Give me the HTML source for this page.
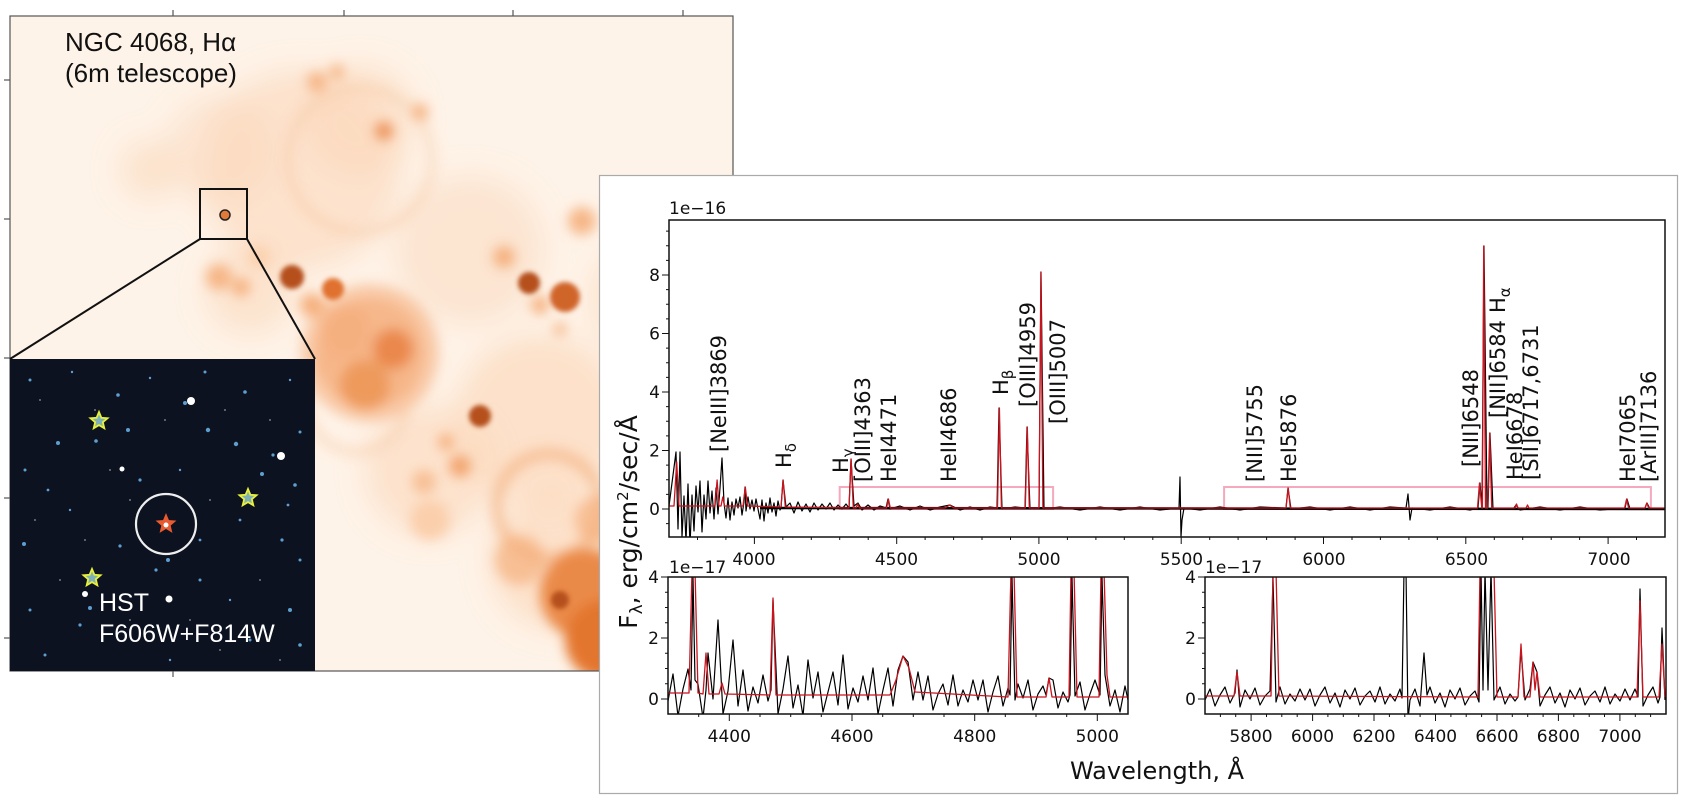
<!DOCTYPE html>
<html><head><meta charset="utf-8">
<style>
html,body{margin:0;padding:0;background:#fff;}
svg{display:block;}
.t{font-family:"DejaVu Sans","Liberation Sans",sans-serif;fill:#111;}
.lab{font-family:"DejaVu Sans","Liberation Sans",sans-serif;font-size:21px;fill:#111;}
.img{font-family:"Liberation Sans",sans-serif;}
</style></head>
<body>
<svg xmlns="http://www.w3.org/2000/svg" width="1690" height="810" viewBox="0 0 1690 810">
<defs>
<filter id="bl" x="-50%" y="-50%" width="200%" height="200%"><feGaussianBlur stdDeviation="6"/></filter>
<filter id="bl2" x="-50%" y="-50%" width="200%" height="200%"><feGaussianBlur stdDeviation="2.5"/></filter>
<filter id="bl3" x="-50%" y="-50%" width="200%" height="200%"><feGaussianBlur stdDeviation="14"/></filter>
<clipPath id="cimg"><rect x="10" y="16" width="723" height="655"/></clipPath>
<clipPath id="cins"><rect x="10" y="359" width="305" height="312"/></clipPath>
<clipPath id="ctop"><rect x="669" y="220" width="996" height="317"/></clipPath>
<clipPath id="cbl"><rect x="668" y="577" width="460" height="137"/></clipPath>
<clipPath id="cbr"><rect x="1205" y="577" width="461" height="137"/></clipPath>
<polygon id="st" points="0,-9 2.38,-3.28 8.56,-2.78 3.85,1.25 5.29,7.28 0,4.05 -5.29,7.28 -3.85,1.25 -8.56,-2.78 -2.38,-3.28"/>
</defs>

<!-- orange H-alpha image -->
<g clip-path="url(#cimg)">
<rect x="10" y="16" width="723" height="655" fill="#fef3e8"/>
<g filter="url(#bl3)" fill="#fbd5b6">
<circle cx="300" cy="170" r="100" opacity="0.55"/><circle cx="220" cy="150" r="55" opacity="0.4"/><circle cx="150" cy="170" r="30" opacity="0.5"/><circle cx="360" cy="120" r="55" opacity="0.5"/>
<circle cx="470" cy="250" r="75" opacity="0.45"/><circle cx="540" cy="420" r="85" opacity="0.6"/><circle cx="430" cy="470" r="65" opacity="0.55"/><circle cx="560" cy="560" r="70" opacity="0.6"/><circle cx="250" cy="290" r="45" opacity="0.5"/><circle cx="650" cy="300" r="60" opacity="0.5"/><circle cx="650" cy="600" r="60" opacity="0.6"/>
</g>
<g filter="url(#bl)">
<circle cx="360" cy="160" r="72" fill="none" stroke="#f7c39c" stroke-width="10" opacity="0.35"/>
<circle cx="370" cy="353" r="62" fill="none" stroke="#f3a36c" stroke-width="14" opacity="0.5"/>
<circle cx="357" cy="402" r="50" fill="none" stroke="#f8c7a2" stroke-width="9" opacity="0.45"/>
<circle cx="549" cy="506" r="52" fill="none" stroke="#f3aa75" stroke-width="12" opacity="0.55"/>
<circle cx="317" cy="82" r="10" fill="#f5b07e" opacity="0.9"/><circle cx="337" cy="72" r="7" fill="#f5b07e"/><circle cx="384" cy="131" r="9" fill="#e77d3c" opacity="0.8"/><circle cx="420" cy="112" r="8" fill="#f5b07e"/>
<circle cx="219" cy="277" r="13" fill="#f5b07e" opacity="0.9"/><circle cx="241" cy="287" r="9" fill="#f5b07e"/><circle cx="259" cy="257" r="11" fill="#fbd0ad"/>
<circle cx="312" cy="305" r="12" fill="#f5b07e"/>
<circle cx="370" cy="353" r="55" fill="#f5ad7a" opacity="0.85"/><circle cx="393" cy="349" r="20" fill="#e77d3c" opacity="0.8"/><circle cx="365" cy="385" r="25" fill="#e98540" opacity="0.6"/><circle cx="345" cy="330" r="25" fill="#f5ad7a" opacity="0.7"/>
<circle cx="446" cy="442" r="8" fill="#f5b07e"/><circle cx="460" cy="466" r="11" fill="#f2a46e"/><circle cx="424" cy="482" r="12" fill="#f5b07e" opacity="0.7"/><circle cx="430" cy="520" r="20" fill="#fbcfac"/>
<circle cx="504" cy="257" r="11" fill="#f5b07e"/><circle cx="540" cy="305" r="9" fill="#f5b07e"/><circle cx="560" cy="329" r="6" fill="#f5b07e"/><circle cx="582" cy="221" r="14" fill="#f5b07e" opacity="0.9"/>
<circle cx="585" cy="594" r="45" fill="#e98540" opacity="0.95"/><circle cx="605" cy="640" r="40" fill="#e3762f"/><circle cx="520" cy="560" r="25" fill="#f5b07e" opacity="0.7"/><circle cx="600" cy="520" r="25" fill="#f5b07e" opacity="0.7"/>
</g>
<g filter="url(#bl2)">
<circle cx="292" cy="277" r="12" fill="#b5501a"/><circle cx="333" cy="289" r="11" fill="#e0712e"/>
<circle cx="480" cy="416" r="11" fill="#b5501a"/><circle cx="529" cy="283" r="11" fill="#b5501a"/><circle cx="565" cy="297" r="15" fill="#d0652a"/><circle cx="560" cy="600" r="9" fill="#b5501a"/>
</g>
</g>
<rect x="10" y="16" width="723" height="655" fill="none" stroke="#555" stroke-width="1.2"/>
<g stroke="#555" stroke-width="1.2">
<line x1="173" y1="16" x2="173" y2="10"/><line x1="344" y1="16" x2="344" y2="10"/><line x1="513" y1="16" x2="513" y2="10"/><line x1="683" y1="16" x2="683" y2="10"/>
<line x1="10" y1="80" x2="4" y2="80"/><line x1="10" y1="219" x2="4" y2="219"/><line x1="10" y1="358" x2="4" y2="358"/><line x1="10" y1="498" x2="4" y2="498"/><line x1="10" y1="638" x2="4" y2="638"/>
<line x1="173" y1="671" x2="173" y2="677"/>
</g>
<text class="img" x="65" y="51" font-size="26" fill="#111">NGC 4068, Hα</text>
<text class="img" x="65" y="82" font-size="26" fill="#111">(6m telescope)</text>
<rect x="200" y="189" width="47" height="50" fill="none" stroke="#111" stroke-width="2"/>
<circle cx="225" cy="215" r="5" fill="#e07a3a" stroke="#222" stroke-width="1.5"/>
<line x1="200" y1="239" x2="10" y2="359" stroke="#111" stroke-width="2"/>
<line x1="247" y1="239" x2="315" y2="359" stroke="#111" stroke-width="2"/>

<!-- HST inset -->
<g clip-path="url(#cins)">
<rect x="10" y="359" width="305" height="312" fill="#0c1220"/>
<g fill="#5f9fd0">
<circle cx="30" cy="380" r="1.5"/><circle cx="72" cy="372" r="1.2"/><circle cx="118" cy="395" r="1.8"/><circle cx="150" cy="378" r="1.2"/><circle cx="205" cy="372" r="1.5"/><circle cx="245" cy="392" r="1.8"/><circle cx="290" cy="380" r="1.2"/>
<circle cx="58" cy="443" r="2"/><circle cx="96" cy="441" r="1.8"/><circle cx="128" cy="430" r="2"/><circle cx="185" cy="403" r="2"/><circle cx="208" cy="430" r="2.2"/><circle cx="236" cy="444" r="2.2"/><circle cx="273" cy="455" r="1.6"/><circle cx="300" cy="432" r="1.5"/>
<circle cx="25" cy="470" r="1.5"/><circle cx="48" cy="490" r="1.4"/><circle cx="140" cy="480" r="1.6"/><circle cx="180" cy="470" r="1.2"/><circle cx="262" cy="474" r="2"/><circle cx="295" cy="485" r="1.8"/><circle cx="288" cy="505" r="1.4"/>
<circle cx="24" cy="544" r="2"/><circle cx="70" cy="510" r="1.2"/><circle cx="120" cy="546" r="1.6"/><circle cx="168" cy="560" r="2"/><circle cx="156" cy="570" r="1.6"/><circle cx="200" cy="540" r="1.4"/><circle cx="240" cy="520" r="1.4"/><circle cx="282" cy="540" r="1.6"/><circle cx="300" cy="560" r="1.5"/>
<circle cx="30" cy="610" r="1.5"/><circle cx="90" cy="608" r="2"/><circle cx="80" cy="625" r="1.6"/><circle cx="200" cy="580" r="1.5"/><circle cx="230" cy="600" r="1.2"/><circle cx="290" cy="610" r="2"/><circle cx="300" cy="645" r="1.8"/><circle cx="250" cy="640" r="1.5"/><circle cx="45" cy="655" r="1.5"/><circle cx="170" cy="660" r="1.2"/>
</g>
<g fill="#8a93a0" opacity="0.8">
<circle cx="40" cy="400" r="1"/><circle cx="95" cy="410" r="1"/><circle cx="165" cy="420" r="1"/><circle cx="225" cy="410" r="1"/><circle cx="270" cy="420" r="1"/><circle cx="35" cy="520" r="1"/><circle cx="85" cy="540" r="1"/><circle cx="130" cy="500" r="1"/><circle cx="210" cy="500" r="1"/><circle cx="260" cy="580" r="1"/><circle cx="130" cy="620" r="1"/><circle cx="220" cy="650" r="1"/><circle cx="60" cy="580" r="1"/><circle cx="110" cy="470" r="1"/><circle cx="190" cy="620" r="1"/><circle cx="280" cy="660" r="1"/>
</g>
<g fill="#fff"><circle cx="191" cy="401" r="4"/><circle cx="281" cy="456" r="4"/><circle cx="122" cy="469" r="2.5"/><circle cx="169" cy="599" r="3.5"/><circle cx="85" cy="594" r="3"/></g>
</g>
<circle cx="166" cy="524" r="30" fill="none" stroke="#eee" stroke-width="2.2"/>
<g fill="#7fb0b8" stroke="#e8f03a" stroke-width="1.8">
<use href="#st" x="99" y="421"/><use href="#st" x="248" y="498"/><use href="#st" x="92" y="578"/>
</g>
<use href="#st" x="166" y="524" fill="#e85a30" stroke="#e85a30" stroke-width="1.5"/>
<circle cx="166" cy="525" r="2.5" fill="#fff"/>
<text class="img" x="99" y="611" font-size="25" fill="#fff">HST</text>
<text class="img" x="99" y="642" font-size="25" fill="#fff">F606W+F814W</text>

<!-- spectrum panel -->
<rect x="599.5" y="175.5" width="1078" height="618" fill="#fff" stroke="#aaa" stroke-width="1.2"/>

<rect x="839.7" y="487" width="213.4" height="22" fill="none" stroke="#f4a9bd" stroke-width="2"/>
<rect x="1224.1" y="487" width="426.8" height="22" fill="none" stroke="#f4a9bd" stroke-width="2"/>

<g clip-path="url(#ctop)" fill="none" stroke-linejoin="round">
<path stroke="#000" stroke-width="1.2" d="M669,506 L676,452 L678,529 L680,452 L682,537 L684,496 L686,542 L688,484 L690,546 L692,495 L694,531 L696,486 L698,512 L700,481 L702,532 L704,495 L706,519 L708,481 L710,513 L712,491 L714,519 L716,488 L718,514 L720,488 L722,458 L724,503 L726,518 L728,498 L730,520 L732,502 L734,515 L736,499 L738,508 L740,497 L742,515 L744,502 L745,487 L746,511 L748,497 L750,509 L752,500 L754,511 L756,499 L758,509 L760,519 L762,500 L764,521 L766,503 L768,513 L770,498 L772,512 L774,503 L776,516 L778,501 L780,510 L781,508 L783,480 L786,507 L790,503 L794,513 L798,502 L802,511 L806,504 L810,512 L814,503 L818,510 L822,504 L826,509 L830,503 L834,510 L838,505 L842,509 L846,504 L849,508 L851,459 L854,506 L858,503 L862,510 L868,505 L874,510 L880,506 L886,508 L888,499 L890,509 L900,506 L910,510 L920,506 L930,510 L940,507 L950,505 L960,510 L970,507 L980,510 L990,507 L997,508 L999,408 L1002,509 L1015,507 L1025,508 L1027,427 L1030,509 L1039,508 L1041,272 L1044,509 L1060,507 L1080,510 L1100,507 L1120,510 L1140,507 L1160,510 L1179,508 L1180,477 L1181,537 L1182,520 L1184,508 L1200,510 L1220,507 L1240,510 L1260,507 L1286,508 L1288,488 L1291,509 L1310,507 L1330,510 L1350,507 L1370,510 L1390,507 L1406,508 L1408,494 L1410,520 L1412,508 L1430,510 L1450,507 L1470,510 L1478,508 L1480,483 L1482,508 L1484,246 L1487,509 L1488,508 L1490,433 L1493,509 L1514,508 L1516,505 L1520,510 L1540,507 L1560,510 L1580,507 L1600,510 L1625,508 L1627,499 L1630,509 L1645,508 L1647,503 L1650,509 L1665,509"/>
<path stroke="#000" stroke-width="2.5" d="M760,508 L1665,509"/>
<path stroke="#c8141e" stroke-width="1.3" d="M669,506 L674,506 L676.7,462 L679,506 L715,506 L717.1,480 L719,506 L721,506 L722.8,497 L724.5,506 L743,506 L745.3,487 L747.5,506 L781,507 L783.1,480 L785.3,507 L849,508 L851.1,459 L853.3,508 L856,508 L857.7,504 L859.5,508 L886.5,508 L888.4,499 L890.3,508 L945,508 L949.6,505 L954,508 L997.5,508 L999.4,408 L1001.4,508 L1025.3,508 L1027.3,427 L1029.3,508 L1039,508 L1040.9,272 L1042.9,508 L1286,508 L1288.2,488 L1290.3,508 L1477.5,508 L1479.5,483 L1481.8,508 L1482.4,508 L1483.7,246 L1485.5,508 L1487.7,508 L1489.7,433 L1491.7,508 L1515,508 L1516.5,504 L1518,508 L1526,508 L1527.5,505 L1529,508 L1624.6,508 L1626.6,499 L1628.6,508 L1645,508 L1646.8,503 L1648.7,508 L1665,508"/>
</g>

<g clip-path="url(#cbl)" fill="none" stroke-linejoin="round">
<path stroke="#000" stroke-width="1.2" d="M668,701 L673,674 L678,716 L683,689 L688,669 L691,690 L693,577 L695,680 L698,684 L703,718 L706,690 L708,653 L713,699 L718,620 L723,714 L728,691 L733,640 L738,706 L743,670 L748,711 L753,687 L758,703 L763,675 L768,701 L771,690 L773,600 L778,714 L783,689 L788,656 L793,708 L798,685 L803,716 L808,660 L813,698 L818,672 L823,712 L828,692 L833,672 L838,705 L843,655 L848,709 L853,688 L858,702 L863,676 L868,700 L873,668 L878,714 L883,690 L888,668 L893,706 L898,670 L903,656 L908,662 L913,700 L918,672 L923,700 L928,676 L933,710 L938,694 L943,684 L948,705 L953,675 L958,706 L963,690 L968,702 L973,680 L978,700 L983,680 L988,712 L993,692 L998,676 L1003,706 L1008,688 L1010,695 L1012,577 L1015,700 L1018,684 L1023,698 L1028,680 L1033,710 L1038,694 L1043,686 L1046,695 L1049,678 L1053,680 L1058,708 L1063,692 L1068,702 L1070,695 L1072,577 L1075,696 L1080,682 L1085,710 L1090,694 L1095,680 L1100,695 L1102,577 L1105,675 L1110,706 L1115,690 L1120,712 L1125,686 L1128,700"/>
<path stroke="#c8141e" stroke-width="1.3" d="M668,693 L689,693 L692,570 L695,570 L698,693 L703,694 L706,653 L709,694 L719,694 L722,683 L725,694 L770,695 L773,598 L776,695 L890,695 L896,680 L903,656 L909,668 L915,692 L1008,697 L1011,570 L1014,570 L1017,697 L1046,697 L1049,678 L1052,697 L1069,697 L1071,570 L1074,570 L1077,697 L1099,697 L1101,570 L1104,570 L1107,675 L1110,697 L1128,697"/>
</g>
<g clip-path="url(#cbr)" fill="none" stroke-linejoin="round">
<path stroke="#000" stroke-width="1.2" d="M1205,700 L1210,689 L1215,706 L1220,695 L1225,687 L1230,703 L1235,693 L1237,670 L1240,707 L1245,690 L1250,699 L1255,688 L1260,705 L1265,696 L1270,691 L1273,577 L1276,702 L1280,687 L1285,704 L1290,694 L1295,701 L1300,689 L1305,700 L1310,689 L1315,706 L1320,695 L1325,687 L1330,703 L1335,693 L1340,707 L1345,690 L1350,699 L1355,688 L1360,705 L1365,696 L1370,691 L1375,702 L1380,687 L1385,704 L1390,694 L1395,701 L1400,689 L1402,698 L1404,570 L1406,570 L1408,720 L1410,700 L1415,689 L1420,706 L1424,653 L1427,695 L1430,687 L1435,703 L1440,693 L1445,707 L1450,690 L1455,699 L1460,688 L1465,705 L1470,696 L1475,691 L1479,702 L1481,570 L1483,690 L1485,570 L1488,690 L1491,570 L1494,700 L1500,687 L1505,704 L1510,694 L1515,701 L1518,697 L1521,650 L1525,700 L1530,689 L1533,662 L1537,672 L1540,706 L1545,695 L1550,687 L1555,703 L1560,693 L1565,707 L1570,690 L1575,699 L1580,688 L1585,705 L1590,696 L1595,691 L1600,702 L1605,687 L1610,704 L1615,694 L1620,701 L1625,689 L1630,700 L1635,689 L1638,697 L1640,589 L1643,706 L1648,695 L1653,687 L1658,703 L1660,697 L1662,628 L1665,700"/>
<path stroke="#c8141e" stroke-width="1.3" d="M1205,696 L1234,696 L1237,672 L1240,696 L1271,696 L1273,570 L1276,570 L1279,696 L1478,697 L1480,570 L1494,570 L1497,697 L1518,697 L1521,644 L1524,697 L1530,697 L1533,662 L1535,690 L1537,672 L1540,697 L1637,697 L1640,601 L1643,697 L1659,697 L1662,644 L1665,697"/>
</g>

<!-- ticks -->
<g stroke="#111" stroke-width="1" fill="none">
<path d="M697.5,537v3M725.9,537v3M754.4,537v7M782.8,537v3M811.3,537v3M839.7,537v3M868.2,537v3M896.7,537v7M925.1,537v3M953.6,537v3M982,537v3M1010.5,537v3M1038.9,537v7M1067.4,537v3M1095.9,537v3M1124.3,537v3M1152.8,537v3M1181.2,537v7M1209.7,537v3M1238.1,537v3M1266.6,537v3M1295.1,537v3M1323.5,537v7M1352,537v3M1380.4,537v3M1408.9,537v3M1437.3,537v3M1465.8,537v7M1494.3,537v3M1522.7,537v3M1551.2,537v3M1579.6,537v3M1608.1,537v7M1636.5,537v3"/>
<path d="M669,523.6h-3M669,509h-7M669,494.4h-3M669,479.75h-3M669,465.1h-3M669,450.5h-7M669,435.9h-3M669,421.25h-3M669,406.6h-3M669,392h-7M669,377.4h-3M669,362.75h-3M669,348.1h-3M669,333.5h-7M669,318.9h-3M669,304.25h-3M669,289.6h-3M669,275h-7M669,260.4h-3M669,245.75h-3M669,231.1h-3"/>
<path d="M698.7,714v3M729.3,714v7M760,714v3M790.7,714v3M821.3,714v3M852,714v7M882.7,714v3M913.3,714v3M944,714v3M974.7,714v7M1005.3,714v3M1036,714v3M1066.7,714v3M1097.3,714v7"/>
<path d="M1220.4,714v3M1235.7,714v3M1251.1,714v7M1266.5,714v3M1281.8,714v3M1297.2,714v3M1312.6,714v7M1327.9,714v3M1343.3,714v3M1358.7,714v3M1374,714v7M1389.4,714v3M1404.8,714v3M1420.1,714v3M1435.5,714v7M1450.9,714v3M1466.2,714v3M1481.6,714v3M1497,714v7M1512.3,714v3M1527.7,714v3M1543.1,714v3M1558.4,714v7M1573.8,714v3M1589.2,714v3M1604.5,714v3M1619.9,714v7M1635.3,714v3M1650.6,714v3"/>
<path d="M668,699h-7M668,683.75h-3M668,668.5h-3M668,653.25h-3M668,638h-7M668,622.75h-3M668,607.5h-3M668,592.25h-3M668,577h-7"/>
<path d="M1205,699h-7M1205,683.75h-3M1205,668.5h-3M1205,653.25h-3M1205,638h-7M1205,622.75h-3M1205,607.5h-3M1205,592.25h-3M1205,577h-7"/>
</g>
<rect x="669" y="220" width="996" height="317" fill="none" stroke="#111" stroke-width="1.5"/>
<rect x="668" y="577" width="460" height="137" fill="none" stroke="#111" stroke-width="1.5"/>
<rect x="1205" y="577" width="461" height="137" fill="none" stroke="#111" stroke-width="1.5"/>

<g class="t" font-size="17">
<text x="669" y="214">1e−16</text>
<text x="669" y="573">1e−17</text>
<text x="1205" y="573">1e−17</text>
<g text-anchor="middle">
<text x="754" y="565">4000</text><text x="896.5" y="565">4500</text><text x="1039" y="565">5000</text><text x="1181.5" y="565">5500</text><text x="1324" y="565">6000</text><text x="1466.5" y="565">6500</text><text x="1609" y="565">7000</text>
<text x="729.3" y="742">4400</text><text x="852" y="742">4600</text><text x="974.7" y="742">4800</text><text x="1097.3" y="742">5000</text>
<text x="1251" y="742">5800</text><text x="1312.5" y="742">6000</text><text x="1374" y="742">6200</text><text x="1435.5" y="742">6400</text><text x="1497" y="742">6600</text><text x="1558.4" y="742">6800</text><text x="1620" y="742">7000</text>
</g>
<g text-anchor="end">
<text x="660" y="515">0</text><text x="660" y="456.5">2</text><text x="660" y="398">4</text><text x="660" y="339.5">6</text><text x="660" y="281">8</text>
<text x="659" y="705">0</text><text x="659" y="644">2</text><text x="659" y="583">4</text>
<text x="1196" y="705">0</text><text x="1196" y="644">2</text><text x="1196" y="583">4</text>
</g>
</g>
<text class="t" font-size="24" x="1157" y="779" text-anchor="middle">Wavelength, Å</text>
<text class="t" font-size="25" transform="translate(637,522) rotate(-90)" text-anchor="middle">F<tspan font-size="17" dy="5">λ</tspan><tspan dy="-5">, erg/cm</tspan><tspan font-size="15" dy="-9">2</tspan><tspan dy="9">/sec/Å</tspan></text>

<!-- line labels -->
<g class="lab">
<text transform="translate(726,452) rotate(-90)">[NeIII]3869</text>
<text transform="translate(791,468) rotate(-90)">H<tspan font-size="15" dy="5">δ</tspan></text>
<text transform="translate(848,473) rotate(-90)">H<tspan font-size="15" dy="5">γ</tspan></text>
<text transform="translate(870,482) rotate(-90)">[OIII]4363</text>
<text transform="translate(896,482) rotate(-90)">HeI4471</text>
<text transform="translate(956,482) rotate(-90)">HeII4686</text>
<text transform="translate(1008,395) rotate(-90)">H<tspan font-size="15" dy="5">β</tspan></text>
<text transform="translate(1035,407) rotate(-90)">[OIII]4959</text>
<text transform="translate(1065,424) rotate(-90)">[OIII]5007</text>
<text transform="translate(1262,482) rotate(-90)">[NII]5755</text>
<text transform="translate(1296,482) rotate(-90)">HeI5876</text>
<text transform="translate(1478,467) rotate(-90)">[NII]6548</text>
<text transform="translate(1505,418) rotate(-90)">[NII]6584</text>
<text transform="translate(1505,313) rotate(-90)">H<tspan font-size="15" dy="5">α</tspan></text>
<text transform="translate(1522,480) rotate(-90)">HeI6678</text>
<text transform="translate(1538,480) rotate(-90)">[SII]6717,6731</text>
<text transform="translate(1635,482) rotate(-90)">HeI7065</text>
<text transform="translate(1656,482) rotate(-90)">[ArIII]7136</text>
</g>
</svg>
</body></html>
